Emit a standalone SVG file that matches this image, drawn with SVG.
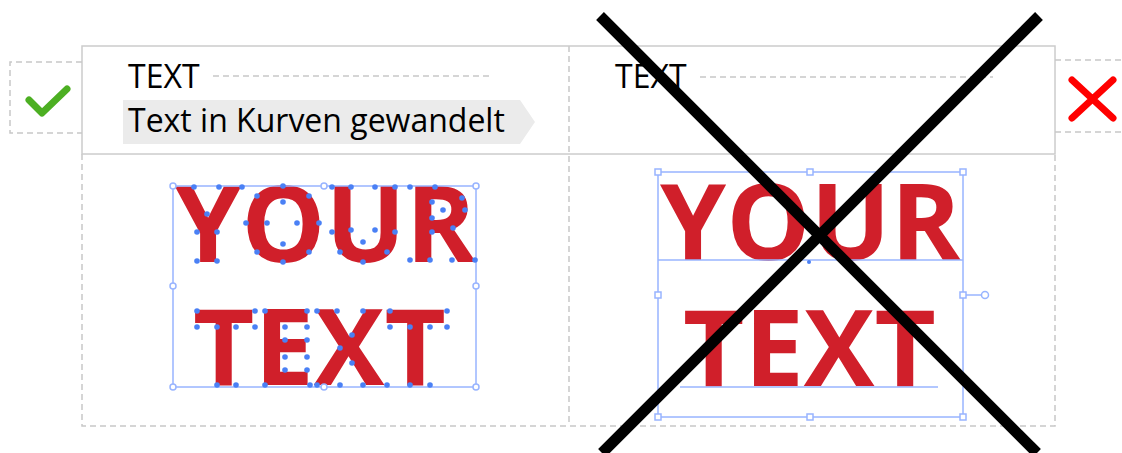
<svg xmlns="http://www.w3.org/2000/svg" width="1122" height="453" viewBox="0 0 1122 453">
<style>
.dash{fill:none;stroke:#c8c8c8;stroke-width:1.5;stroke-dasharray:6 4}
.solid{fill:none;stroke:#cccccc;stroke-width:1.5}
.hdr{font-family:"Open Sans","Liberation Sans",sans-serif;font-size:32px;fill:#000}
.big{font-family:"Open Sans","Liberation Sans",sans-serif;font-size:106px;font-weight:700;fill:#d01f2a}
.bb{fill:none;stroke:#98b4ff;stroke-width:1.5}
.h{fill:#fff;stroke:#98b4ff;stroke-width:1.5}
.a{fill:#4a80f5}
.cross{stroke:#000;stroke-width:11;stroke-linecap:butt}
</style>
<rect width="1122" height="453" fill="#fff"/>
<g id="frame">
<path class="dash" d="M82 154V426H1055V154M569 46V426"/>
<rect class="solid" x="82" y="46" width="973" height="108"/>
</g>
<g id="ok-mark">
<path class="dash" d="M82 62H10V133H82"/>
<polyline points="29,100 42,113 67,89" fill="none" stroke="#4caf22" stroke-width="7" stroke-linecap="round" stroke-linejoin="round"/>
</g>
<g id="no-mark">
<path class="dash" d="M1055 60H1122M1055 132H1122"/>
<path d="M1072 80L1113 118M1113 80L1072 118" stroke="#ff0000" stroke-width="7" stroke-linecap="round"/>
</g>
<g id="left-header">
<text class="hdr" x="128" y="88">TEXT</text>
<line class="dash" x1="213" y1="76" x2="490" y2="76"/>
<path d="M123 100H520L535 122L520 144H123Z" fill="#ebebeb"/>
<text class="hdr" x="128" y="132">Text in Kurven gewandelt</text>
</g>
<g id="right-header">
<text class="hdr" x="615" y="88">TEXT</text>
<line class="dash" x1="700" y1="77" x2="993" y2="77"/>
</g>
<g id="left-outlined">
<text class="big"><tspan x="175" y="262">YOUR</tspan><tspan x="193" y="385">TEXT</tspan></text>
<rect class="bb" x="173" y="186" width="303" height="201"/>
<g class="h">
<circle cx="173" cy="186" r="3"/><circle cx="324" cy="186" r="3"/><circle cx="476" cy="186" r="3"/>
<circle cx="173" cy="286" r="3"/><circle cx="476" cy="286" r="3"/>
<circle cx="173" cy="387" r="3"/><circle cx="324" cy="387" r="3"/><circle cx="476" cy="387" r="3"/>
</g>
<g class="a">
<circle cx="194" cy="187" r="2.8"/><circle cx="219" cy="187" r="2.8"/><circle cx="242" cy="187" r="2.8"/><circle cx="207" cy="214" r="2.8"/><circle cx="197" cy="232" r="2.8"/><circle cx="217" cy="232" r="2.8"/><circle cx="197" cy="261" r="2.8"/><circle cx="217" cy="261" r="2.8"/>
<circle cx="283" cy="186" r="2.8"/><circle cx="257" cy="196" r="2.8"/><circle cx="309" cy="196" r="2.8"/><circle cx="246" cy="223" r="2.8"/><circle cx="319" cy="223" r="2.8"/><circle cx="257" cy="252" r="2.8"/><circle cx="309" cy="252" r="2.8"/><circle cx="283" cy="262" r="2.8"/><circle cx="283" cy="202" r="2.8"/><circle cx="267" cy="223" r="2.8"/><circle cx="297" cy="223" r="2.8"/><circle cx="283" cy="244" r="2.8"/>
<circle cx="332" cy="187" r="2.8"/><circle cx="351" cy="187" r="2.8"/><circle cx="375" cy="187" r="2.8"/><circle cx="395" cy="187" r="2.8"/><circle cx="332" cy="232" r="2.8"/><circle cx="351" cy="230" r="2.8"/><circle cx="375" cy="230" r="2.8"/><circle cx="395" cy="232" r="2.8"/><circle cx="340" cy="252" r="2.8"/><circle cx="363" cy="262" r="2.8"/><circle cx="387" cy="252" r="2.8"/><circle cx="363" cy="242" r="2.8"/>
<circle cx="410" cy="187" r="2.8"/><circle cx="435" cy="187" r="2.8"/><circle cx="462" cy="198" r="2.8"/><circle cx="465" cy="210" r="2.8"/><circle cx="453" cy="228" r="2.8"/><circle cx="475" cy="260" r="2.8"/><circle cx="452" cy="260" r="2.8"/><circle cx="432" cy="232" r="2.8"/><circle cx="430" cy="260" r="2.8"/><circle cx="410" cy="260" r="2.8"/><circle cx="432" cy="202" r="2.8"/><circle cx="443" cy="210" r="2.8"/><circle cx="432" cy="218" r="2.8"/>
<circle cx="197" cy="311" r="2.8"/><circle cx="255" cy="311" r="2.8"/><circle cx="197" cy="327" r="2.8"/><circle cx="255" cy="327" r="2.8"/><circle cx="217" cy="327" r="2.8"/><circle cx="236" cy="327" r="2.8"/><circle cx="217" cy="385" r="2.8"/><circle cx="236" cy="385" r="2.8"/>
<circle cx="265" cy="311" r="2.8"/><circle cx="307" cy="311" r="2.8"/><circle cx="285" cy="327" r="2.8"/><circle cx="307" cy="327" r="2.8"/><circle cx="285" cy="340" r="2.8"/><circle cx="307" cy="340" r="2.8"/><circle cx="285" cy="357" r="2.8"/><circle cx="307" cy="357" r="2.8"/><circle cx="285" cy="370" r="2.8"/><circle cx="307" cy="370" r="2.8"/><circle cx="265" cy="385" r="2.8"/><circle cx="310" cy="385" r="2.8"/>
<circle cx="317" cy="311" r="2.8"/><circle cx="337" cy="311" r="2.8"/><circle cx="363" cy="311" r="2.8"/><circle cx="390" cy="311" r="2.8"/><circle cx="352" cy="335" r="2.8"/><circle cx="340" cy="348" r="2.8"/><circle cx="352" cy="363" r="2.8"/><circle cx="317" cy="385" r="2.8"/><circle cx="340" cy="385" r="2.8"/><circle cx="363" cy="385" r="2.8"/><circle cx="387" cy="385" r="2.8"/>
<circle cx="447" cy="311" r="2.8"/><circle cx="390" cy="327" r="2.8"/><circle cx="447" cy="327" r="2.8"/><circle cx="410" cy="327" r="2.8"/><circle cx="430" cy="327" r="2.8"/><circle cx="410" cy="385" r="2.8"/><circle cx="430" cy="385" r="2.8"/>
</g>
</g>
<g id="right-live-text">
<text class="big"><tspan x="660" y="260">YOUR</tspan><tspan x="683" y="386">TEXT</tspan></text>
<rect class="bb" x="658" y="172" width="305" height="245"/>
<line class="bb" x1="658" y1="260" x2="963" y2="260"/>
<line class="bb" x1="680" y1="387" x2="938" y2="387"/>
<line class="bb" x1="963" y1="295" x2="983" y2="295"/>
<circle class="a" cx="809" cy="262" r="2"/>
<g class="h">
<rect x="655" y="169" width="6" height="6"/><rect x="807" y="169" width="6" height="6"/><rect x="960" y="169" width="6" height="6"/>
<rect x="655" y="292" width="6" height="6"/><rect x="960" y="292" width="6" height="6"/>
<rect x="655" y="414" width="6" height="6"/><rect x="807" y="414" width="6" height="6"/><rect x="960" y="414" width="6" height="6"/>
<circle cx="985" cy="295" r="3.5"/>
</g>
</g>
<g id="big-cross">
<line class="cross" x1="600" y1="16" x2="1037" y2="453"/>
<line class="cross" x1="1039" y1="16" x2="602" y2="453"/>
</g>
</svg>
